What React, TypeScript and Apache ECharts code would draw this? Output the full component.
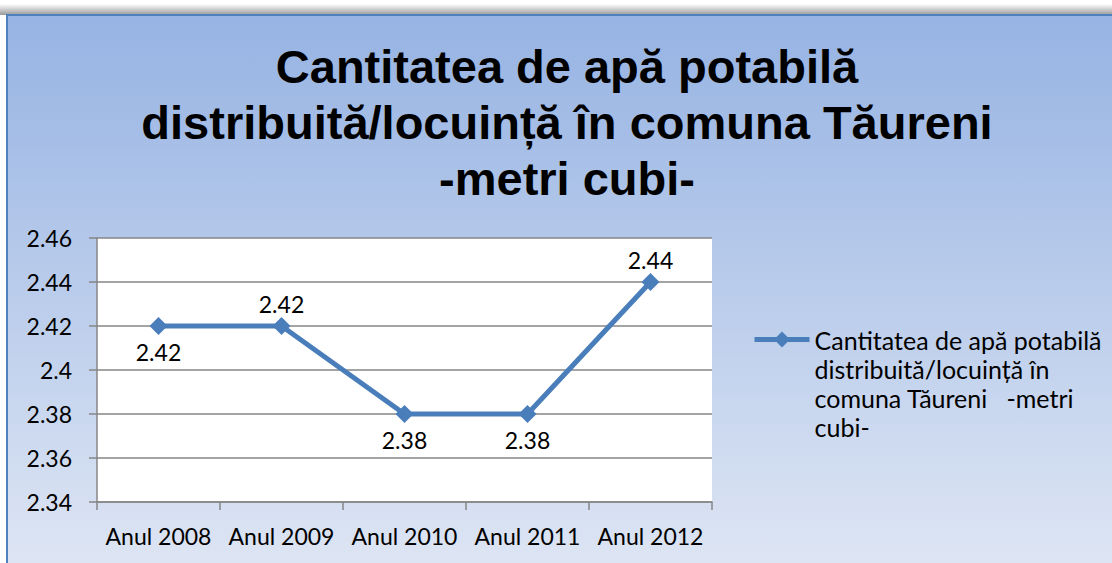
import React, { useEffect, useRef } from "react";
import * as echarts from "echarts";

const categories = ["Anul 2008", "Anul 2009", "Anul 2010", "Anul 2011", "Anul 2012"];
const values = [2.42, 2.42, 2.38, 2.38, 2.44];
const labelSides = ["bottom", "top", "bottom", "bottom", "top"];
const yTicks = { min: 2.34, max: 2.46, interval: 0.02 };
const seriesName = "Cantitatea de apă potabilă distribuită/locuință în comuna Tăureni   -metri cubi-";
const legendLines = ["Cantitatea de apă potabilă", "distribuită/locuință în", "comuna Tăureni   -metri", "cubi-"];
const titleLines = ["Cantitatea de apă potabilă", "distribuită/locuință în comuna Tăureni", "-metri cubi-"];

const FONT = "Lato";

export default function App() {
  const ref = useRef<HTMLDivElement>(null);
  useEffect(() => {
    if (!ref.current) return;
    const chart = echarts.init(ref.current, null, { renderer: "svg" });
    chart.setOption({
      animation: false,
      backgroundColor: "#ffffff",
      graphic: [
        {
          type: "rect",
          z: -100,
          silent: true,
          shape: { x: 0, y: 4, width: 1112, height: 11 },
          style: {
            fill: new echarts.graphic.LinearGradient(0, 0, 0, 1, [
              { offset: 0, color: "#ffffff" },
              { offset: 1, color: "#9a9a9a" },
            ]),
          },
        },
        {
          type: "rect",
          z: -99,
          silent: true,
          shape: { x: 7, y: 15, width: 1130, height: 570 },
          style: {
            fill: new echarts.graphic.LinearGradient(0, 0, 0, 1, [
              { offset: 0, color: "#96b3e3" },
              { offset: 1, color: "#e0e7f4" },
            ]),
            stroke: "#4f81bd",
            lineWidth: 2,
          },
        },
      ],
      title: {
        text: titleLines.join("\n"),
        left: 567,
        top: 38,
        padding: 0,
        textAlign: "center",
        textStyle: {
          fontFamily: "Liberation Sans",
          fontWeight: "bold",
          fontSize: 47,
          lineHeight: 56,
          color: "#000",
        },
      },
      legend: {
        left: 752,
        top: 238,
        padding: 0,
        orient: "vertical",
        itemWidth: 55,
        itemHeight: 20,
        lineStyle: { width: 5 },
        formatter: () => "\n\n\n" + legendLines.join("\n"),
        textStyle: {
          fontFamily: FONT,
          fontSize: 25,
          lineHeight: 29,
          color: "#000",
        },
        data: [seriesName],
      },
      grid: {
        left: 97,
        right: 400,
        top: 238,
        bottom: 61,
        show: true,
        backgroundColor: "#ffffff",
        borderWidth: 0,
      },
      xAxis: {
        type: "category",
        data: categories,
        boundaryGap: true,
        axisLine: { lineStyle: { color: "#868686", width: 1.5 } },
        axisTick: { show: true, length: 8, alignWithLabel: false, lineStyle: { color: "#868686", width: 1.5 } },
        axisLabel: { fontFamily: FONT, fontSize: 23, color: "#000", margin: 22, interval: 0 },
      },
      yAxis: {
        type: "value",
        min: yTicks.min,
        max: yTicks.max,
        interval: yTicks.interval,
        axisLine: { show: true, lineStyle: { color: "#868686", width: 1.5 } },
        axisTick: { show: true, length: 8, lineStyle: { color: "#868686", width: 1.5 } },
        splitLine: { show: true, lineStyle: { color: "#868686", width: 1.5 } },
        axisLabel: {
          fontFamily: FONT,
          fontSize: 23,
          color: "#000",
          margin: 25,
          formatter: (v: number) => String(parseFloat(v.toFixed(2))),
        },
      },
      series: [
        {
          name: seriesName,
          type: "line",
          data: values.map((v, i) => ({
            value: v,
            label: { position: labelSides[i], distance: labelSides[i] === "top" ? 2 : 5 },
          })),
          symbol: "diamond",
          symbolSize: 18,
          itemStyle: { color: "#4a7ebb" },
          lineStyle: { color: "#4a7ebb", width: 5 },
          label: {
            show: true,
            fontFamily: FONT,
            fontSize: 23,
            color: "#000",
            formatter: (p: any) => String(p.value),
          },
        },
      ],
    });
    return () => chart.dispose();
  }, []);
  return (
    <div
      ref={ref}
      style={{ position: "absolute", left: 0, top: 0, width: 1112, height: 563 }}
    />
  );
}
